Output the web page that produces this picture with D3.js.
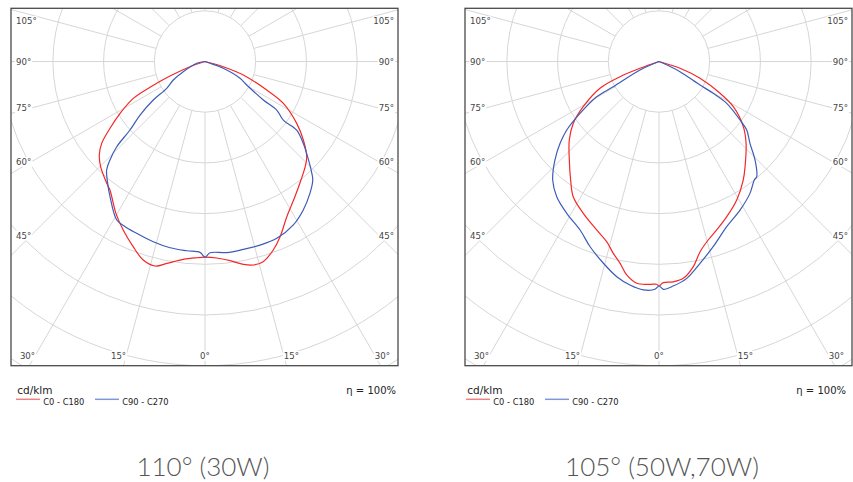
<!DOCTYPE html>
<html><head><meta charset="utf-8">
<script src="https://cdn.jsdelivr.net/npm/d3@7"></script>
<style>body{margin:0;background:#fff}svg{display:block}</style>
</head><body><svg id="c" width="853" height="482"></svg>
<script>
// ---------- data ----------
const titles = ["110° (30W)", "105° (50W,70W)"];
const seriesNames = ["C0 - C180", "C90 - C270"];
const unitLabel = "cd/klm";
const effLabel = "η = 100%";
const ringValues = [50, 100, 150, 200, 250, 300, 350, 400, 450];
const spokeAngles = [0, 15, 30, 45, 60, 75, 90, 105, 120, 135, 150, 165, 180, 195, 210, 225, 240, 255, 270, 285, 300, 315, 330, 345];
const sideLabelAngles = [45, 60, 75, 90, 105];
const bottomLabelAngles = [-30, -15, 0, 15, 30];

// [angle from nadir (deg, negative = left half), intensity cd/klm]
const p1_C0 = [[-90,0],[-70.9,15.7],[-67.5,37.4],[-64.9,59.9],[-62.8,79.5],[-58.6,98.1],[-54.9,114.5],[-51.6,130],[-48.5,139.2],[-44.8,146.1],[-38.9,154.3],[-36.5,157.6],[-30.4,173.6],[-25.9,184.7],[-21.2,195.9],[-17.3,205],[-13.7,207.6],[-10.7,202.6],[-6.3,196.3],[-2.4,193.7],[0,193],[3.4,194.1],[7.2,198],[10.7,203.6],[13.4,206.3],[16.2,205.6],[19.9,197.7],[23.2,188],[27.8,173],[33.6,160.2],[39,150.4],[43.6,143.3],[46.9,137.4],[51.4,124.1],[56,109.1],[61.9,87.6],[65.2,67.1],[70.6,40],[74.1,18.7],[90,0]];
const p1_C90 = [[-90,0],[-77.8,8.4],[-64.8,23.7],[-59.7,36.2],[-55,46.1],[-53.3,63.6],[-50.5,83],[-47.6,100.2],[-46,121],[-44,134.9],[-42.2,144.4],[-38.7,153.6],[-35.1,162.9],[-29.1,178.9],[-25.8,181],[-21.7,182.3],[-16,184.9],[-10.6,186.9],[-5.5,187.5],[-1.5,188.3],[0,193],[1.5,188.7],[6.5,189.7],[11.5,189.1],[16.7,189],[22.1,188.2],[28.4,183.2],[33.5,175.6],[38.5,166.2],[42.3,157.9],[43.7,152.5],[47.9,135.1],[50.2,126.1],[53.2,112.9],[53.2,96.4],[55.9,85.4],[56.6,68.9],[60.6,47.2],[64.4,38.3],[69.6,19.2],[70.2,5.2],[90,0]];
const p2_C0 = [[-90,0],[-70.3,19.9],[-68.7,41.3],[-65.6,63.9],[-59.2,87],[-54.2,104.2],[-48.8,117.6],[-42.3,131.4],[-36.7,145.8],[-32.4,157.9],[-26.5,167.3],[-20.3,177.1],[-16.2,185],[-13.4,194.5],[-10.9,202.7],[-8.6,212.9],[-5.7,219.8],[-2.3,219.9],[-0.6,219.7],[0,221.4],[1.1,218.1],[3.7,217.7],[6.4,215.2],[9.5,205.1],[12.2,191.9],[15.4,182.6],[18.9,175.6],[23.6,167],[29.3,156.6],[35.4,143.4],[39.3,134],[46.8,117.8],[52.3,105.1],[58.7,85.8],[62.5,67.9],[67.7,43.7],[72.1,21.8],[90,0]];
const p2_C90 = [[-90,0],[-65.9,20.5],[-61.1,51.5],[-60.5,70.6],[-56.7,93.2],[-53.4,113.3],[-50.4,126.6],[-46.6,141.2],[-41.9,157],[-37.1,167.2],[-31.3,175.2],[-25.1,183.5],[-20.4,194.9],[-15.4,206.4],[-11.1,216.3],[-7.4,222.3],[-3.9,225.8],[-1,224.7],[0,221.4],[1.1,224.7],[3.6,221.9],[7.3,215.6],[11.5,203.1],[16.3,190.3],[22.3,176],[28.6,166.9],[34.6,158],[38.8,150],[40.3,149],[44.3,135.6],[48,120.7],[52,109.8],[54.2,98.5],[58.3,78.5],[59.6,62],[60.2,46.6],[64.1,23],[67.3,4.6],[90,0]];

// ---------- layout ----------
const panels = [
  {cx: 205, legendX: 16, titleX: 203, title: titles[0], series: [p1_C0, p1_C90]},
  {cx: 659, legendX: 466, titleX: 662, title: titles[1], series: [p2_C0, p2_C90]}
];
const cy = 61.5, boxTop = 8.3, boxBottom = 365.7;
const colors = ["#f42828", "#3d5cb8"];
const legendColors = ["#f28080", "#8098d8"];
const gridColor = "#d6d6d6";
const rScale = d3.scaleLinear().domain([0, 50]).range([0, 50.7]);
const rad = d => d * Math.PI / 180;

const svg = d3.select("#c");
const lineGen = d3.lineRadial()
  .angle(d => rad(180 - d[0]))
  .radius(d => rScale(d[1]))
  .curve(d3.curveCatmullRom.alpha(0.5));

panels.forEach((p, i) => {
  const x0 = p.cx - 194, x1 = p.cx + 193;
  const clipId = "clip" + i;
  svg.append("clipPath").attr("id", clipId)
    .append("rect").attr("x", x0).attr("y", boxTop).attr("width", x1 - x0).attr("height", boxBottom - boxTop);

  const g = svg.append("g").attr("clip-path", `url(#${clipId})`);
  // rings
  g.selectAll("circle.ring").data(ringValues).join("circle")
    .attr("cx", p.cx).attr("cy", cy).attr("r", d => rScale(d))
    .attr("fill", "none").attr("stroke", gridColor).attr("stroke-width", 1);
  // spokes
  const rIn = rScale(ringValues[0]), rOut = 700;
  g.selectAll("line.spoke").data(spokeAngles).join("line")
    .attr("x1", d => p.cx + rIn * Math.sin(rad(d)))
    .attr("y1", d => cy + rIn * Math.cos(rad(d)))
    .attr("x2", d => p.cx + rOut * Math.sin(rad(d)))
    .attr("y2", d => cy + rOut * Math.cos(rad(d)))
    .attr("stroke", gridColor).attr("stroke-width", 1);

  // angle labels
  const lab = svg.append("g").attr("font-family", "DejaVu Sans, sans-serif")
    .attr("font-size", 8.6).attr("fill", "#444");
  const addLabel = (x, y, anchor, txt) => {
    const t = lab.append("text").attr("x", x).attr("y", y).attr("dy", "0.36em")
      .attr("text-anchor", anchor).text(txt);
    const b = t.node().getBBox();
    lab.insert("rect", "text").attr("x", b.x - 1).attr("y", b.y).attr("width", b.width + 2)
      .attr("height", b.height).attr("fill", "#fff");
  };
  sideLabelAngles.forEach(a => {
    const yRaw = cy + (p.cx - (x0 + 20)) * Math.tan(rad(90 - a));
    const y = Math.max(yRaw, boxTop + 13);
    addLabel(x0 + 5, y, "start", a + "°");
    addLabel(x1 - 4, y, "end", a + "°");
  });
  bottomLabelAngles.forEach(a => {
    const yb = boxBottom - 10;
    const x = p.cx + (yb - cy) * Math.tan(rad(a));
    addLabel(x, yb, a < 0 ? "end" : (a > 0 ? "start" : "middle"), Math.abs(a) + "°");
  });

  // curves
  const cg = svg.append("g").attr("clip-path", `url(#${clipId})`)
    .append("g").attr("transform", `translate(${p.cx},${cy})`);
  p.series.forEach((s, k) => {
    cg.append("path").attr("d", lineGen(s)).attr("fill", "none")
      .attr("stroke", colors[k]).attr("stroke-width", 1.2).attr("stroke-linejoin", "round");
  });

  // box
  svg.append("rect").attr("x", x0).attr("y", boxTop).attr("width", x1 - x0).attr("height", boxBottom - boxTop)
    .attr("fill", "none").attr("stroke", "#4a4a4a").attr("stroke-width", 1.3);

  // legend
  const lg = svg.append("g").attr("font-family", "DejaVu Sans, sans-serif").attr("fill", "#222");
  lg.append("text").attr("x", p.legendX + 1.3).attr("y", 390.5).attr("dy", "0.36em")
    .attr("font-size", 10.5).text(unitLabel);
  lg.append("text").attr("x", p.legendX + 380).attr("y", 390).attr("dy", "0.36em")
    .attr("text-anchor", "end").attr("font-size", 10).text(effLabel);
  const items = [{dx: 0}, {dx: 79}];
  seriesNames.forEach((n, k) => {
    const lx = p.legendX + items[k].dx;
    lg.append("line").attr("x1", lx).attr("x2", lx + 24).attr("y1", 399.3).attr("y2", 399.3)
      .attr("stroke", legendColors[k]).attr("stroke-width", 1.5);
    lg.append("text").attr("x", lx + 27.3).attr("y", 401.7).attr("dy", "0.36em")
      .attr("font-size", 8.3).text(n);
  });

  // title
  svg.append("text").attr("x", p.titleX).attr("y", 466.7).attr("dy", "0.36em")
    .attr("text-anchor", "middle").attr("font-family", "Lato, sans-serif").attr("font-weight", 300)
    .attr("font-size", 26).attr("fill", "#555").text(p.title);
});
</script></body></html>
